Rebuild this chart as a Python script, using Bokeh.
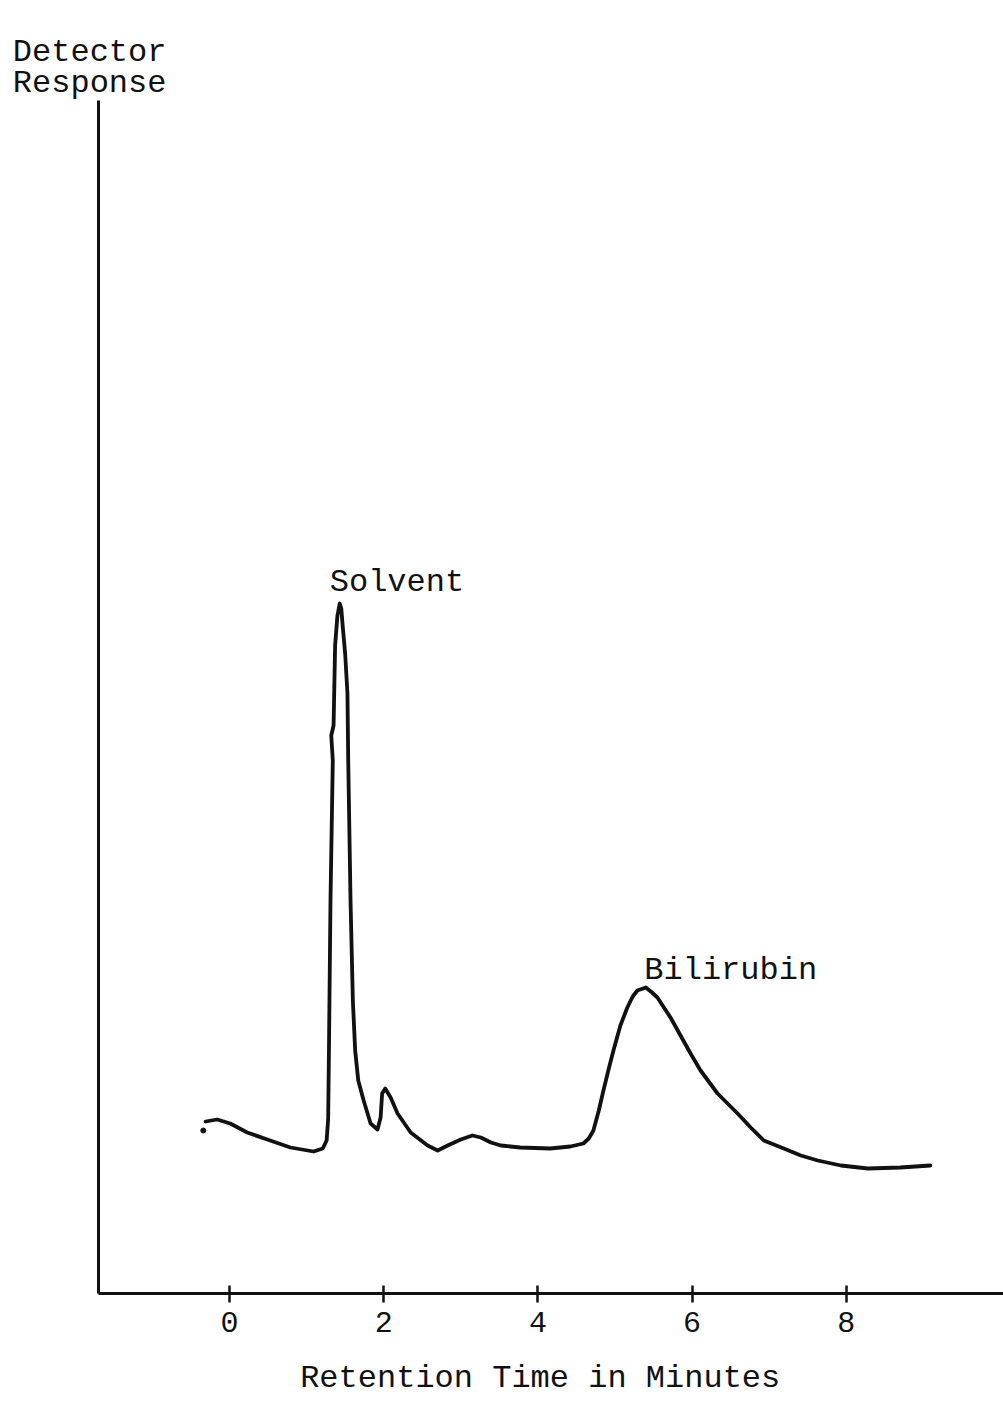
from bokeh.plotting import figure
from bokeh.models import Range1d, Label, FixedTicker, LinearAxis
from bokeh.embed import file_html
from bokeh.resources import INLINE

# ---- data (time in minutes, response in arbitrary units)
time_min = [-0.31, -0.16, 0.01, 0.23, 0.49, 0.79, 1.09, 1.21, 1.26, 1.28, 1.29, 1.31,
            1.34, 1.32, 1.35, 1.37, 1.40, 1.43, 1.45, 1.47, 1.50, 1.53, 1.54, 1.57,
            1.60, 1.63, 1.67, 1.74, 1.83, 1.92, 1.96, 1.98, 2.02, 2.09, 2.18, 2.35,
            2.57, 2.70, 2.83, 3.00, 3.15, 3.26, 3.39, 3.52, 3.77, 4.16, 4.42, 4.59,
            4.66, 4.72, 4.79, 4.85, 4.92, 4.98, 5.07, 5.16, 5.23, 5.29, 5.40, 5.48,
            5.55, 5.72, 5.98, 6.11, 6.33, 6.59, 6.76, 6.93, 7.19, 7.41, 7.63, 7.93,
            8.28, 8.70, 9.09]
response = [1.72, 1.74, 1.70, 1.61, 1.54, 1.46, 1.42, 1.45, 1.53, 1.75, 2.43, 3.93,
            5.33, 5.58, 5.68, 6.48, 6.78, 6.90, 6.85, 6.66, 6.40, 6.00, 5.33, 3.93,
            2.93, 2.43, 2.13, 1.93, 1.70, 1.64, 1.76, 2.00, 2.05, 1.96, 1.80, 1.61,
            1.48, 1.43, 1.48, 1.54, 1.58, 1.56, 1.51, 1.48, 1.46, 1.45, 1.47, 1.50,
            1.55, 1.63, 1.83, 2.03, 2.25, 2.43, 2.68, 2.86, 2.97, 3.03, 3.06, 3.01,
            2.96, 2.76, 2.40, 2.23, 2.00, 1.80, 1.66, 1.53, 1.45, 1.38, 1.33, 1.28,
            1.25, 1.26, 1.28]
stray_dot_time = [-0.34]
stray_dot_response = [1.63]

tick_values = [0, 2, 4, 6, 8]
peak_names = ["Solvent", "Bilirubin"]
y_title_lines = ["Detector", "Response"]
x_title = "Retention Time in Minutes"

FONT = "Liberation Mono"
INK = "#111111"

p = figure(width=1003, height=1403, output_backend="svg", toolbar_location=None,
           x_range=Range1d(-2.970, 10.039), y_range=Range1d(-1.10, 12.93),
           x_axis_location=None, y_axis_location=None,
           min_border=0, background_fill_color="white",
           border_fill_color="white")
p.outline_line_color = None
p.grid.visible = False

# x axis (fixed at response = 0)
xa = LinearAxis(fixed_location=0, bounds=(-1.70, 10.04))
xa.ticker = FixedTicker(ticks=tick_values)
xa.axis_line_width = 3
xa.axis_line_color = INK
xa.major_tick_line_width = 2.5
xa.major_tick_line_color = INK
xa.major_tick_in = 8
xa.major_tick_out = 9
xa.minor_tick_line_color = None
xa.major_label_standoff = 9
xa.major_label_text_font = FONT
xa.major_label_text_font_size = "30px"
xa.major_label_text_color = INK
p.add_layout(xa, "below")

# y axis: bare line
ya = LinearAxis(fixed_location=-1.70, bounds=(0, 11.93))
ya.ticker = FixedTicker(ticks=[])
ya.axis_line_width = 3
ya.axis_line_color = INK
ya.major_tick_line_color = None
ya.minor_tick_line_color = None
ya.major_label_text_font_size = "0px"
p.add_layout(ya, "left")

p.line(time_min, response, line_width=3.8, line_color=INK, line_join="round",
       line_cap="round")
p.scatter(stray_dot_time, stray_dot_response, size=5, color=INK)

common = dict(text_font=FONT, text_font_size="32px", text_color=INK,
              text_baseline="alphabetic")
# axis titles
p.add_layout(Label(x=-2.81, y=12.41, text=y_title_lines[0], text_align="left", **common))
p.add_layout(Label(x=-2.81, y=12.10, text=y_title_lines[1], text_align="left", **common))
p.add_layout(Label(x=4.03, y=-0.85, text=x_title, text_align="center", **common))
# peak labels
p.add_layout(Label(x=1.30, y=7.11, text=peak_names[0], text_align="left", **common))
p.add_layout(Label(x=5.38, y=3.23, text=peak_names[1], text_align="left", **common))

open("out.html", "w").write(file_html(p, INLINE))
